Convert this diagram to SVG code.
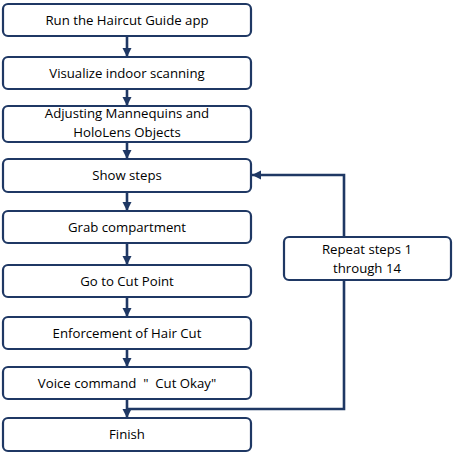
<svg xmlns="http://www.w3.org/2000/svg" width="456" height="456" viewBox="0 0 456 456">
<style>
.box{fill:#fff;stroke:#1f3864;stroke-width:2.2}
.t{font-family:"Open Sans","Noto Sans",sans-serif;font-size:13.2px;fill:#000;text-anchor:middle}
.c{fill:none;stroke:#1f3864;stroke-width:2.6}
</style>
<defs>
<marker id="ah" viewBox="0 0 10 10" refX="10" refY="5" markerWidth="3.6" markerHeight="3.6" orient="auto" markerUnits="strokeWidth">
<path d="M0,0 L10,5 L0,10 Z" fill="#1f3864"/>
</marker>
</defs>
<rect width="456" height="456" fill="#fff"/>
<g id="connectors">
<line class="c" x1="127" y1="36" x2="127" y2="57" marker-end="url(#ah)"/>
<line class="c" x1="127" y1="89" x2="127" y2="106" marker-end="url(#ah)"/>
<line class="c" x1="127" y1="142" x2="127" y2="159" marker-end="url(#ah)"/>
<line class="c" x1="127" y1="192" x2="127" y2="211" marker-end="url(#ah)"/>
<line class="c" x1="127" y1="243" x2="127" y2="265" marker-end="url(#ah)"/>
<line class="c" x1="127" y1="297" x2="127" y2="317" marker-end="url(#ah)"/>
<line class="c" x1="127" y1="349" x2="127" y2="367" marker-end="url(#ah)"/>
<line class="c" x1="127" y1="399" x2="127" y2="418" marker-end="url(#ah)"/>
<path class="c" d="M344,237 V175 H252" marker-end="url(#ah)"/>
<path class="c" d="M344,280 V409 H127"/>
</g>
<g id="n1"><rect class="box" x="3" y="4" width="248" height="32" rx="5"/><text class="t" x="127" y="25">Run the Haircut Guide app</text></g>
<g id="n2"><rect class="box" x="3" y="57" width="248" height="32" rx="5"/><text class="t" x="127" y="78">Visualize indoor scanning</text></g>
<g id="n3"><rect class="box" x="3" y="106" width="248" height="36" rx="5"/><text class="t" x="127" y="118">Adjusting Mannequins and</text><text class="t" x="127" y="137">HoloLens Objects</text></g>
<g id="n4"><rect class="box" x="3" y="159" width="248" height="33" rx="5"/><text class="t" x="127" y="180">Show steps</text></g>
<g id="n5"><rect class="box" x="3" y="211" width="248" height="32" rx="5"/><text class="t" x="127" y="232">Grab compartment</text></g>
<g id="n6"><rect class="box" x="3" y="265" width="248" height="32" rx="5"/><text class="t" x="127" y="286">Go to Cut Point</text></g>
<g id="n7"><rect class="box" x="3" y="317" width="248" height="32" rx="5"/><text class="t" x="127" y="338">Enforcement of Hair Cut</text></g>
<g id="n8"><rect class="box" x="3" y="367" width="248" height="32" rx="5"/><text class="t" x="127" y="388" xml:space="preserve">Voice command  "  Cut Okay"</text></g>
<g id="n9"><rect class="box" x="3" y="418" width="248" height="33" rx="5"/><text class="t" x="127" y="439">Finish</text></g>
<g id="n10"><rect class="box" x="284" y="237" width="167" height="43" rx="5"/><text class="t" x="367" y="254">Repeat steps 1</text><text class="t" x="367" y="273">through 14</text></g>
</svg>
